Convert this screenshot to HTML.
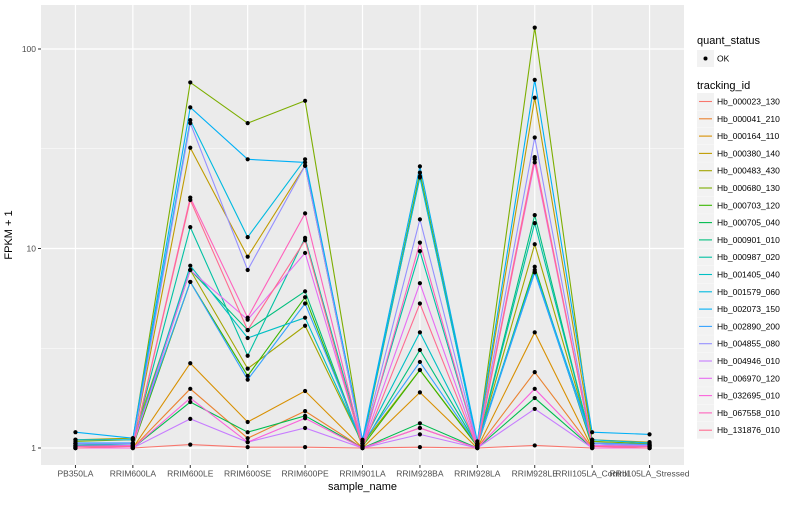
<!DOCTYPE html>
<html><head><meta charset="utf-8"><style>
body{margin:0;background:#fff;}
svg text{font-family:"Liberation Sans",sans-serif;}
</style></head><body>
<svg id="chart" width="800" height="500" xmlns="http://www.w3.org/2000/svg"></svg>
<script>
const categories=["PB350LA","RRIM600LA","RRIM600LE","RRIM600SE","RRIM600PE","RRIM901LA","RRIM928BA","RRIM928LA","RRIM928LE","RRII105LA_Control","RRII105LA_Stressed"];
const seriesNames=["Hb_000023_130","Hb_000041_210","Hb_000164_110","Hb_000380_140","Hb_000483_430","Hb_000680_130","Hb_000703_120","Hb_000705_040","Hb_000901_010","Hb_000987_020","Hb_001405_040","Hb_001579_060","Hb_002073_150","Hb_002890_200","Hb_004855_080","Hb_004946_010","Hb_006970_120","Hb_032695_010","Hb_067558_010","Hb_131876_010"];
const seriesColors=["#F8766D","#EA8331","#D89000","#C09B00","#A3A500","#7CAE00","#39B600","#00BB4E","#00BF7D","#00C1A3","#00BFC4","#00BAE0","#00B0F6","#35A2FF","#9590FF","#C77CFF","#E76BF3","#FA62DB","#FF62BC","#FF6C91"];
const s01=[1.0,1.0,1.04,1.01,1.01,1.0,1.01,1.0,1.03,1.0,1.0];
const s02=[1.0,1.0,1.98,1.12,1.53,1.0,1.26,1.0,2.4,1.0,1.0];
const s03=[1.0,1.0,2.66,1.35,1.93,1.0,1.9,1.0,3.8,1.0,1.0];
const s04=[1.05,1.05,32,9.1,26,1.05,23,1.05,57,1.1,1.07];
const s05=[1.1,1.12,7.8,2.5,4.1,1.05,2.46,1.03,10.5,1.06,1.04];
const s06=[1.08,1.1,68,42.5,55,1.05,24,1.05,128,1.08,1.05];
const s07=[1.02,1.02,6.8,2.3,5.7,1.02,2.46,1.02,8.1,1.02,1.02];
const s08=[1.0,1.0,1.7,1.2,1.45,1.0,1.33,1.0,1.78,1.0,1.0];
const s09=[1.03,1.03,7.8,3.9,6.1,1.03,3.1,1.03,14.7,1.03,1.02];
const s10=[1.03,1.05,12.8,2.9,11.3,1.05,9.7,1.03,13.4,1.05,1.03];
const s11=[1.05,1.05,8.2,3.56,4.5,1.05,3.8,1.03,7.6,1.05,1.03];
const s12=[1.1,1.1,44,11.4,28,1.08,22.7,1.05,7.8,1.1,1.06];
const s13=[1.2,1.12,51,28,27,1.1,25.8,1.08,70,1.2,1.17];
const s14=[1.06,1.06,6.8,2.2,5.3,1.06,2.7,1.03,7.6,1.06,1.04];
const s15=[1.05,1.05,42.5,7.8,26,1.05,14,1.05,36,1.05,1.03];
const s16=[1.0,1.0,1.4,1.07,1.26,1.0,1.17,1.0,1.57,1.0,1.0];
const s17=[1.02,1.03,7.8,4.4,9.5,1.02,6.7,1.02,27,1.03,1.02];
const s18=[1.0,1.0,1.78,1.07,1.41,1.0,1.26,1.0,1.98,1.0,1.0];
const s19=[1.02,1.02,18,4.5,15,1.02,10.7,1.02,28.7,1.02,1.02];
const s20=[1.0,1.02,17.5,3.9,11,1.0,5.3,1.0,28,1.02,1.0];
const seriesValues=[s01,s02,s03,s04,s05,s06,s07,s08,s09,s10,s11,s12,s13,s14,s15,s16,s17,s18,s19,s20];
const yTicks=[1,10,100];
const yTickLabels=["1","10","100"];

const NS="http://www.w3.org/2000/svg";
const svg=document.getElementById("chart");
const P={l:41,r:684,t:5,b:465};
const step=(P.r-P.l)/(categories.length-1+1.2);
function xs(i){return P.l+step*(0.6+i);}
function ys(v){return 448-199.5*Math.log10(v);}
function mk(tag,attrs,parent){const e=document.createElementNS(NS,tag);for(const k in attrs)e.setAttribute(k,attrs[k]);(parent||svg).appendChild(e);return e;}

const panel=mk("rect",{x:P.l,y:P.t,width:P.r-P.l,height:P.b-P.t,fill:"#EBEBEB"});


[Math.sqrt(10),Math.sqrt(1000)].forEach(v=>{
  const g=mk("line",{x1:P.l,x2:P.r,y1:ys(v),y2:ys(v),stroke:"#fff","stroke-width":0.6});
  
  
});
yTicks.forEach((v,i)=>{
  const g=mk("line",{x1:P.l,x2:P.r,y1:ys(v),y2:ys(v),stroke:"#fff","stroke-width":1.2});
  
  
  const tk=mk("line",{x1:P.l-3,x2:P.l,y1:ys(v),y2:ys(v),stroke:"#333","stroke-width":1});
  
  
  const t=mk("text",{x:P.l-5,y:ys(v)+3,"text-anchor":"end","font-size":"8.5",fill:"#4D4D4D"});
  t.textContent=yTickLabels[i];
  
  
});
categories.forEach((c,i)=>{
  const g=mk("line",{x1:xs(i),x2:xs(i),y1:P.t,y2:P.b,stroke:"#fff","stroke-width":1.2});
  
  
  const tk=mk("line",{x1:xs(i),x2:xs(i),y1:P.b,y2:P.b+3,stroke:"#333","stroke-width":1});
  
  
  const t=mk("text",{x:xs(i),y:P.b+11.5,"text-anchor":"middle","font-size":"8.5",fill:"#4D4D4D"});
  t.textContent=c;
  
  
});
seriesValues.forEach((vals,si)=>{
  const pl=mk("polyline",{points:vals.map((v,i)=>xs(i)+","+ys(v)).join(" "),fill:"none",stroke:seriesColors[si],"stroke-width":1.1});
  
  
});
seriesValues.forEach((vals,si)=>{
  vals.forEach((v,i)=>{
    const p=mk("circle",{cx:xs(i),cy:ys(v),r:2.1,fill:"#000"});
    
    
  });
});
const xt=mk("text",{x:(P.l+P.r)/2,y:490,"text-anchor":"middle","font-size":"11",fill:"#000"});
xt.textContent="sample_name";


const yt=mk("text",{x:0,y:0,"text-anchor":"middle","font-size":"11",fill:"#000",transform:"translate(12,"+((P.t+P.b)/2)+") rotate(-90)"});
yt.textContent="FPKM + 1";



const lq=mk("text",{x:697,y:44,"font-size":"11",fill:"#000"});
lq.textContent="quant_status";


const kb=mk("rect",{x:697,y:50,width:17,height:17,fill:"#F2F2F2"});


const kd=mk("circle",{cx:705.5,cy:58.5,r:2,fill:"#000"});


const kt=mk("text",{x:717,y:61.5,"font-size":"8.5",fill:"#000"});
kt.textContent="OK";


const lt=mk("text",{x:697,y:89,"font-size":"11",fill:"#000"});
lt.textContent="tracking_id";


seriesNames.forEach((n,i)=>{
  const y=93+i*17.3;
  const b=mk("rect",{x:697,y:y,width:17,height:17,fill:"#F2F2F2"});
  
  
  const l=mk("line",{x1:699,x2:712,y1:y+8.5,y2:y+8.5,stroke:seriesColors[i],"stroke-width":1.1});
  
  
  const t=mk("text",{x:717,y:y+11.5,"font-size":"8.5",fill:"#000"});
  t.textContent=n;
  
  
});
</script>
</body></html>
